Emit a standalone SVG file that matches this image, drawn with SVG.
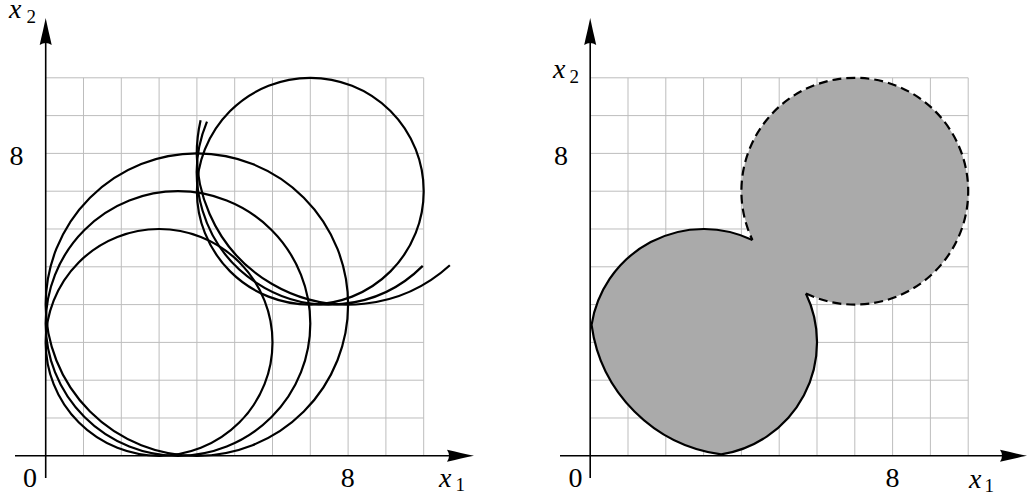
<svg xmlns="http://www.w3.org/2000/svg" xmlns:xlink="http://www.w3.org/1999/xlink" width="1028" height="498" viewBox="0 0 1028 498">
<style>
.grid{stroke:#bdbdbd;stroke-width:1;fill:none}
.axis{stroke:#000;stroke-width:1.6;fill:none}
.curve{stroke:#000;stroke-width:2.2;fill:none}
.dash{stroke:#000;stroke-width:2.2;fill:none;stroke-dasharray:9 5}
.region{fill:#aaaaaa;stroke:none}
.lbl{font-family:'Liberation Serif','DejaVu Serif',serif;font-size:28px;fill:#000}
.var{font-style:italic}
.sub{font-size:19px;font-style:normal}
</style>
<defs>
<path id="arrowhead" d="M0,0 C-8,-1.6 -18,-4 -27,-6 Q-23,0 -27,6 C-18,4 -8,1.6 0,0 Z" fill="#000"/>
<g id="gridlines">
<path class="grid" d="M37.8,0V-378M75.6,0V-378M113.4,0V-378M151.2,0V-378M189,0V-378M226.8,0V-378M264.6,0V-378M302.4,0V-378M340.2,0V-378M378,0V-378M0,-37.8H378M0,-75.6H378M0,-113.4H378M0,-151.2H378M0,-189H378M0,-226.8H378M0,-264.6H378M0,-302.4H378M0,-340.2H378M0,-378H378"/>
</g>
</defs>

<g id="left-plot">
<use xlink:href="#gridlines" href="#gridlines" transform="translate(45.7,455.8)"/>
<g id="left-axes">
<line class="axis" x1="15" y1="455.8" x2="460" y2="455.8"/>
<line class="axis" x1="45.7" y1="478" x2="45.7" y2="32"/>
<use xlink:href="#arrowhead" href="#arrowhead" transform="translate(474,455.8)"/>
<use xlink:href="#arrowhead" href="#arrowhead" transform="translate(45.7,18) rotate(-90)"/>
</g>
<g id="left-curves">
<circle class="curve" cx="159.1" cy="342.4" r="113.4"/>
<circle class="curve" cx="178" cy="323.5" r="132.3"/>
<circle class="curve" cx="196.9" cy="304.6" r="151.2"/>
<circle class="curve" cx="310.3" cy="191.2" r="113.4"/>
<path class="curve" d="M206.97,121.67 A132.3,132.3 0 0 0 422.75,265.85"/>
<path class="curve" d="M200.6,120.16 A151.2,151.2 0 0 0 449.86,265.23"/>
</g>
<g id="left-labels" class="lbl">
<text x="9" y="18"><tspan class="var">x</tspan><tspan class="sub" x="26.5" y="23">2</tspan></text>
<text x="16.5" y="165" text-anchor="middle">8</text>
<text x="30" y="487" text-anchor="middle">0</text>
<text x="347.8" y="487" text-anchor="middle">8</text>
<text x="439" y="487"><tspan class="var">x</tspan><tspan class="sub" x="455.5" y="491">1</tspan></text>
</g>
</g>

<g id="right-plot">
<use xlink:href="#gridlines" href="#gridlines" transform="translate(590.2,455.8)"/>
<g id="right-region">
<path class="region" d="M752.47,240.07 A113.4,113.4 0 0 0 591.56,324.86 A151.2,151.2 0 0 0 721.14,454.44 A113.4,113.4 0 0 0 805.93,293.53 A113.4,113.4 0 1 0 752.47,240.07 Z"/>
<path class="curve" d="M752.47,240.07 A113.4,113.4 0 0 0 591.56,324.86 A151.2,151.2 0 0 0 721.14,454.44 A113.4,113.4 0 0 0 805.93,293.53"/>
<path class="dash" d="M805.93,293.53 A113.4,113.4 0 1 0 752.47,240.07"/>
</g>
<g id="right-axes">
<line class="axis" x1="560" y1="455.8" x2="1012" y2="455.8"/>
<line class="axis" x1="590.2" y1="478" x2="590.2" y2="32"/>
<use xlink:href="#arrowhead" href="#arrowhead" transform="translate(1027,455.8)"/>
<use xlink:href="#arrowhead" href="#arrowhead" transform="translate(590.2,18) rotate(-90)"/>
</g>
<g id="right-labels" class="lbl">
<text x="553" y="78"><tspan class="var">x</tspan><tspan class="sub" x="569.5" y="83">2</tspan></text>
<text x="561" y="165" text-anchor="middle">8</text>
<text x="575.5" y="487" text-anchor="middle">0</text>
<text x="892.6" y="487" text-anchor="middle">8</text>
<text x="969" y="488"><tspan class="var">x</tspan><tspan class="sub" x="984.5" y="492">1</tspan></text>
</g>
</g>
</svg>
